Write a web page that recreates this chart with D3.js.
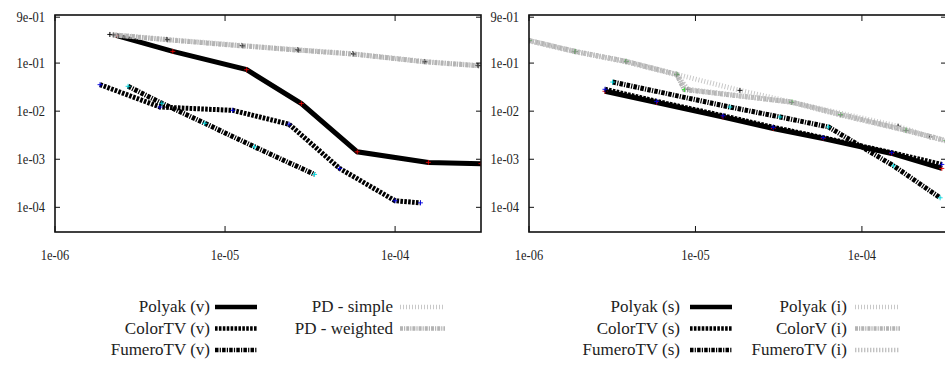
<!DOCTYPE html>
<html>
<head>
<meta charset="utf-8">
<script src="https://cdn.jsdelivr.net/npm/d3@7"></script>
<style>
  body { margin: 0; background: #fff; }
</style>
</head>
<body>
<svg id="chart" width="945" height="366"></svg>
<script>
// Tick values and labels (shared by both panels)
const xTicks = [1e-6, 1e-5, 1e-4];
const xTickLabels = ["1e-06", "1e-05", "1e-04"];
const yTicks = [0.9, 1e-1, 1e-2, 1e-3, 1e-4];
const yTickLabels = ["9e-01", "1e-01", "1e-02", "1e-03", "1e-04"];
const xDomain = [1e-6, 3.2e-4];
const yDomain = [3.07e-5, 1];

// Left panel: [x, y] pairs
const polyakV = [[2.28e-6, 0.376], [4.93e-6, 0.175], [1.34e-5, 0.073], [2.81e-5, 0.0144], [5.99e-5, 1.43e-3], [1.57e-4, 8.6e-4], [3.2e-4, 8.1e-4]];
const colorTVV = [[1.84e-6, 0.0356], [4.14e-6, 0.0122], [1.11e-5, 0.0104], [2.38e-5, 5.35e-3], [4.72e-5, 6.44e-4], [1.0e-4, 1.37e-4], [1.41e-4, 1.24e-4]];
const fumeroTVV = [[2.69e-6, 0.0329], [4.25e-6, 0.0146], [7.6e-6, 5.6e-3], [1.49e-5, 1.81e-3], [3.36e-5, 4.84e-4]];
const pdSimple = [[2.10e-6, 0.394], [4.54e-6, 0.311], [1.25e-5, 0.233], [2.67e-5, 0.190], [5.62e-5, 0.157], [1.49e-4, 0.108], [3.06e-4, 0.0896]];
const pdWeighted = [[2.20e-6, 0.385], [4.60e-6, 0.305], [1.27e-5, 0.228], [2.70e-5, 0.186], [5.70e-5, 0.154], [1.50e-4, 0.106], [3.10e-4, 0.088]];

// Right panel
const polyakS = [[2.86e-6, 0.0259], [5.85e-6, 0.0151], [1.465e-5, 7.58e-3], [2.93e-5, 4.36e-3], [5.85e-5, 2.70e-3], [1.51e-4, 1.32e-3], [3.02e-4, 6.44e-4]];
const colorTVS = [[2.86e-6, 0.0285], [5.85e-6, 0.0160], [1.465e-5, 8.03e-3], [2.93e-5, 4.63e-3], [5.85e-5, 2.81e-3], [1.51e-4, 1.37e-3], [3.02e-4, 7.8e-4]];
const fumeroTVS = [[3.18e-6, 0.0403], [1.61e-5, 0.0122], [3.22e-5, 7.58e-3], [6.29e-5, 4.70e-3], [1.55e-4, 7.3e-4], [2.95e-4, 1.58e-4]];
const polyakI = [[1.0e-6, 0.296], [1.89e-6, 0.175], [3.83e-6, 0.1085], [7.72e-6, 0.0583], [1.85e-5, 0.0271], [1.65e-4, 4.86e-3], [2.57e-4, 2.92e-3]];
const colorVI = [[1.0e-6, 0.296], [1.89e-6, 0.175], [3.83e-6, 0.1085], [7.72e-6, 0.0583], [8.58e-6, 0.0281], [3.79e-5, 0.0155], [7.46e-5, 8.5e-3], [1.84e-4, 4.02e-3], [3.2e-4, 2.45e-3]];
const fumeroTVI = [[1.0e-6, 0.29], [1.89e-6, 0.172], [3.83e-6, 0.106], [7.72e-6, 0.057], [9.0e-6, 0.0285], [3.79e-5, 0.0152], [7.46e-5, 8.3e-3], [1.84e-4, 3.95e-3], [3.2e-4, 2.4e-3]];

// Legend labels
const legendLeft = ["Polyak (v)", "ColorTV (v)", "FumeroTV (v)", "PD - simple", "PD - weighted"];
const legendRight = ["Polyak (s)", "ColorTV (s)", "FumeroTV (s)", "Polyak (i)", "ColorV (i)", "FumeroTV (i)"];

// Line styles (gnuplot-ish)
const styleSolid = { color: "#000", width: 5, dash: null, mark: "#e00000" };
const styleDash = { color: "#000", width: 5, dash: "2.6,1.3", mark: "#0000e0" };
const styleDashDot = { color: "#000", width: 5, dash: "3.5,1.2,1.2,1.2", mark: "#00d8e0" };
const styleGrayDot = { color: "#c8c8c8", width: 5, dash: "1,2", mark: "#000" };
const styleGrayDashDot = { color: "#b4b4b4", width: 5, dash: "3,1,1.2,1", mark: "#30e030" };
const styleGrayDashDotK = { color: "#b4b4b4", width: 5, dash: "3,1,1.2,1", mark: "#444" };
const styleGrayFine = { color: "#c2c2c2", width: 5, dash: "1.4,1.6", mark: "#888" };

const FONT = '"Liberation Serif"';
const svg = d3.select("#chart");

function drawPanel(id, left, right, series, styles) {
  const top = 15, bottom = 232;
  const x = d3.scaleLog().domain(xDomain).range([left, right]);
  const y = d3.scaleLog().domain(yDomain).range([bottom, top]);
  const g = svg.append("g");

  // clip to the plot area
  g.append("clipPath").attr("id", "clip" + id)
    .append("rect").attr("x", left).attr("y", top).attr("width", right - left).attr("height", bottom - top);

  const line = d3.line().x((d) => x(d[0])).y((d) => y(d[1]));
  const plot = g.append("g").attr("clip-path", "url(#clip" + id + ")");

  series.forEach((s, i) => {
    const st = styles[i];
    plot.append("path")
      .attr("d", line(s))
      .attr("fill", "none")
      .attr("stroke", st.color)
      .attr("stroke-width", st.width)
      .attr("stroke-dasharray", st.dash)
      .attr("stroke-linejoin", "miter")
      .attr("stroke-linecap", "butt");
    // tiny "+" point markers
    plot.selectAll(null).data(s).enter().append("path")
      .attr("d", (d) => `M${x(d[0]) - 2.5},${y(d[1])}h5M${x(d[0])},${y(d[1]) - 2.5}v5`)
      .attr("stroke", st.mark)
      .attr("stroke-width", 0.9);
  });

  // border
  g.append("rect")
    .attr("x", left).attr("y", top).attr("width", right - left).attr("height", bottom - top)
    .attr("fill", "none").attr("stroke", "#111").attr("stroke-width", 1.6);

  // y ticks + labels (mirrored on the right)
  yTicks.forEach((t, i) => {
    const yy = y(t);
    g.append("path").attr("d", `M${left},${yy}h5M${right},${yy}h-5`).attr("stroke", "#111").attr("stroke-width", 1);
    g.append("text")
      .attr("transform", `translate(${left - 10},${yy + 5}) scale(0.86,1)`)
      .attr("text-anchor", "end")
      .style("font-family", FONT)
      .attr("font-size", 14.5)
      .attr("fill", "#222")
      .text(yTickLabels[i]);
  });

  // x ticks + labels (mirrored on top)
  xTicks.forEach((t, i) => {
    const xx = x(t);
    g.append("path").attr("d", `M${xx},${bottom}v-6M${xx},${top}v6`).attr("stroke", "#111").attr("stroke-width", 1);
    g.append("text")
      .attr("transform", `translate(${xx},${260}) scale(0.86,1)`)
      .attr("text-anchor", "middle")
      .style("font-family", FONT)
      .attr("font-size", 14.5)
      .attr("fill", "#222")
      .text(xTickLabels[i]);
  });
}

function drawLegend(labels, styles, cols) {
  // cols: [{textRight, sampleX, sampleLen, rows:[indices]}]
  const rowY = [312, 333.5, 355];
  cols.forEach((c) => {
    c.rows.forEach((idx, r) => {
      const st = styles[idx];
      const yy = rowY[r];
      svg.append("text")
        .attr("x", c.textRight).attr("y", yy)
        .attr("text-anchor", "end")
        .style("font-family", FONT)
        .attr("font-size", 17)
        .attr("fill", "#222")
        .text(labels[idx]);
      svg.append("path")
        .attr("d", `M${c.sampleX},${yy - 5}h${c.sampleLen}`)
        .attr("stroke", st.color)
        .attr("stroke-width", 4.5)
        .attr("stroke-dasharray", st.dash);
    });
  });
}

const leftStyles = [styleSolid, styleDash, styleDashDot, styleGrayDot, styleGrayDashDotK];
const rightStyles = [styleSolid, styleDash, styleDashDot, styleGrayDot, styleGrayDashDot, styleGrayFine];

drawPanel("L", 55, 481, [polyakV, colorTVV, fumeroTVV, pdSimple, pdWeighted], leftStyles);
drawPanel("R", 529, 946, [polyakS, colorTVS, fumeroTVS, polyakI, colorVI, fumeroTVI], rightStyles);

drawLegend(legendLeft, leftStyles, [
  { textRight: 210, sampleX: 215, sampleLen: 42, rows: [0, 1, 2] },
  { textRight: 393, sampleX: 400, sampleLen: 45, rows: [3, 4] }
]);
drawLegend(legendRight, rightStyles, [
  { textRight: 680, sampleX: 690, sampleLen: 42, rows: [0, 1, 2] },
  { textRight: 847, sampleX: 855, sampleLen: 45, rows: [3, 4, 5] }
]);
</script>
</body>
</html>
